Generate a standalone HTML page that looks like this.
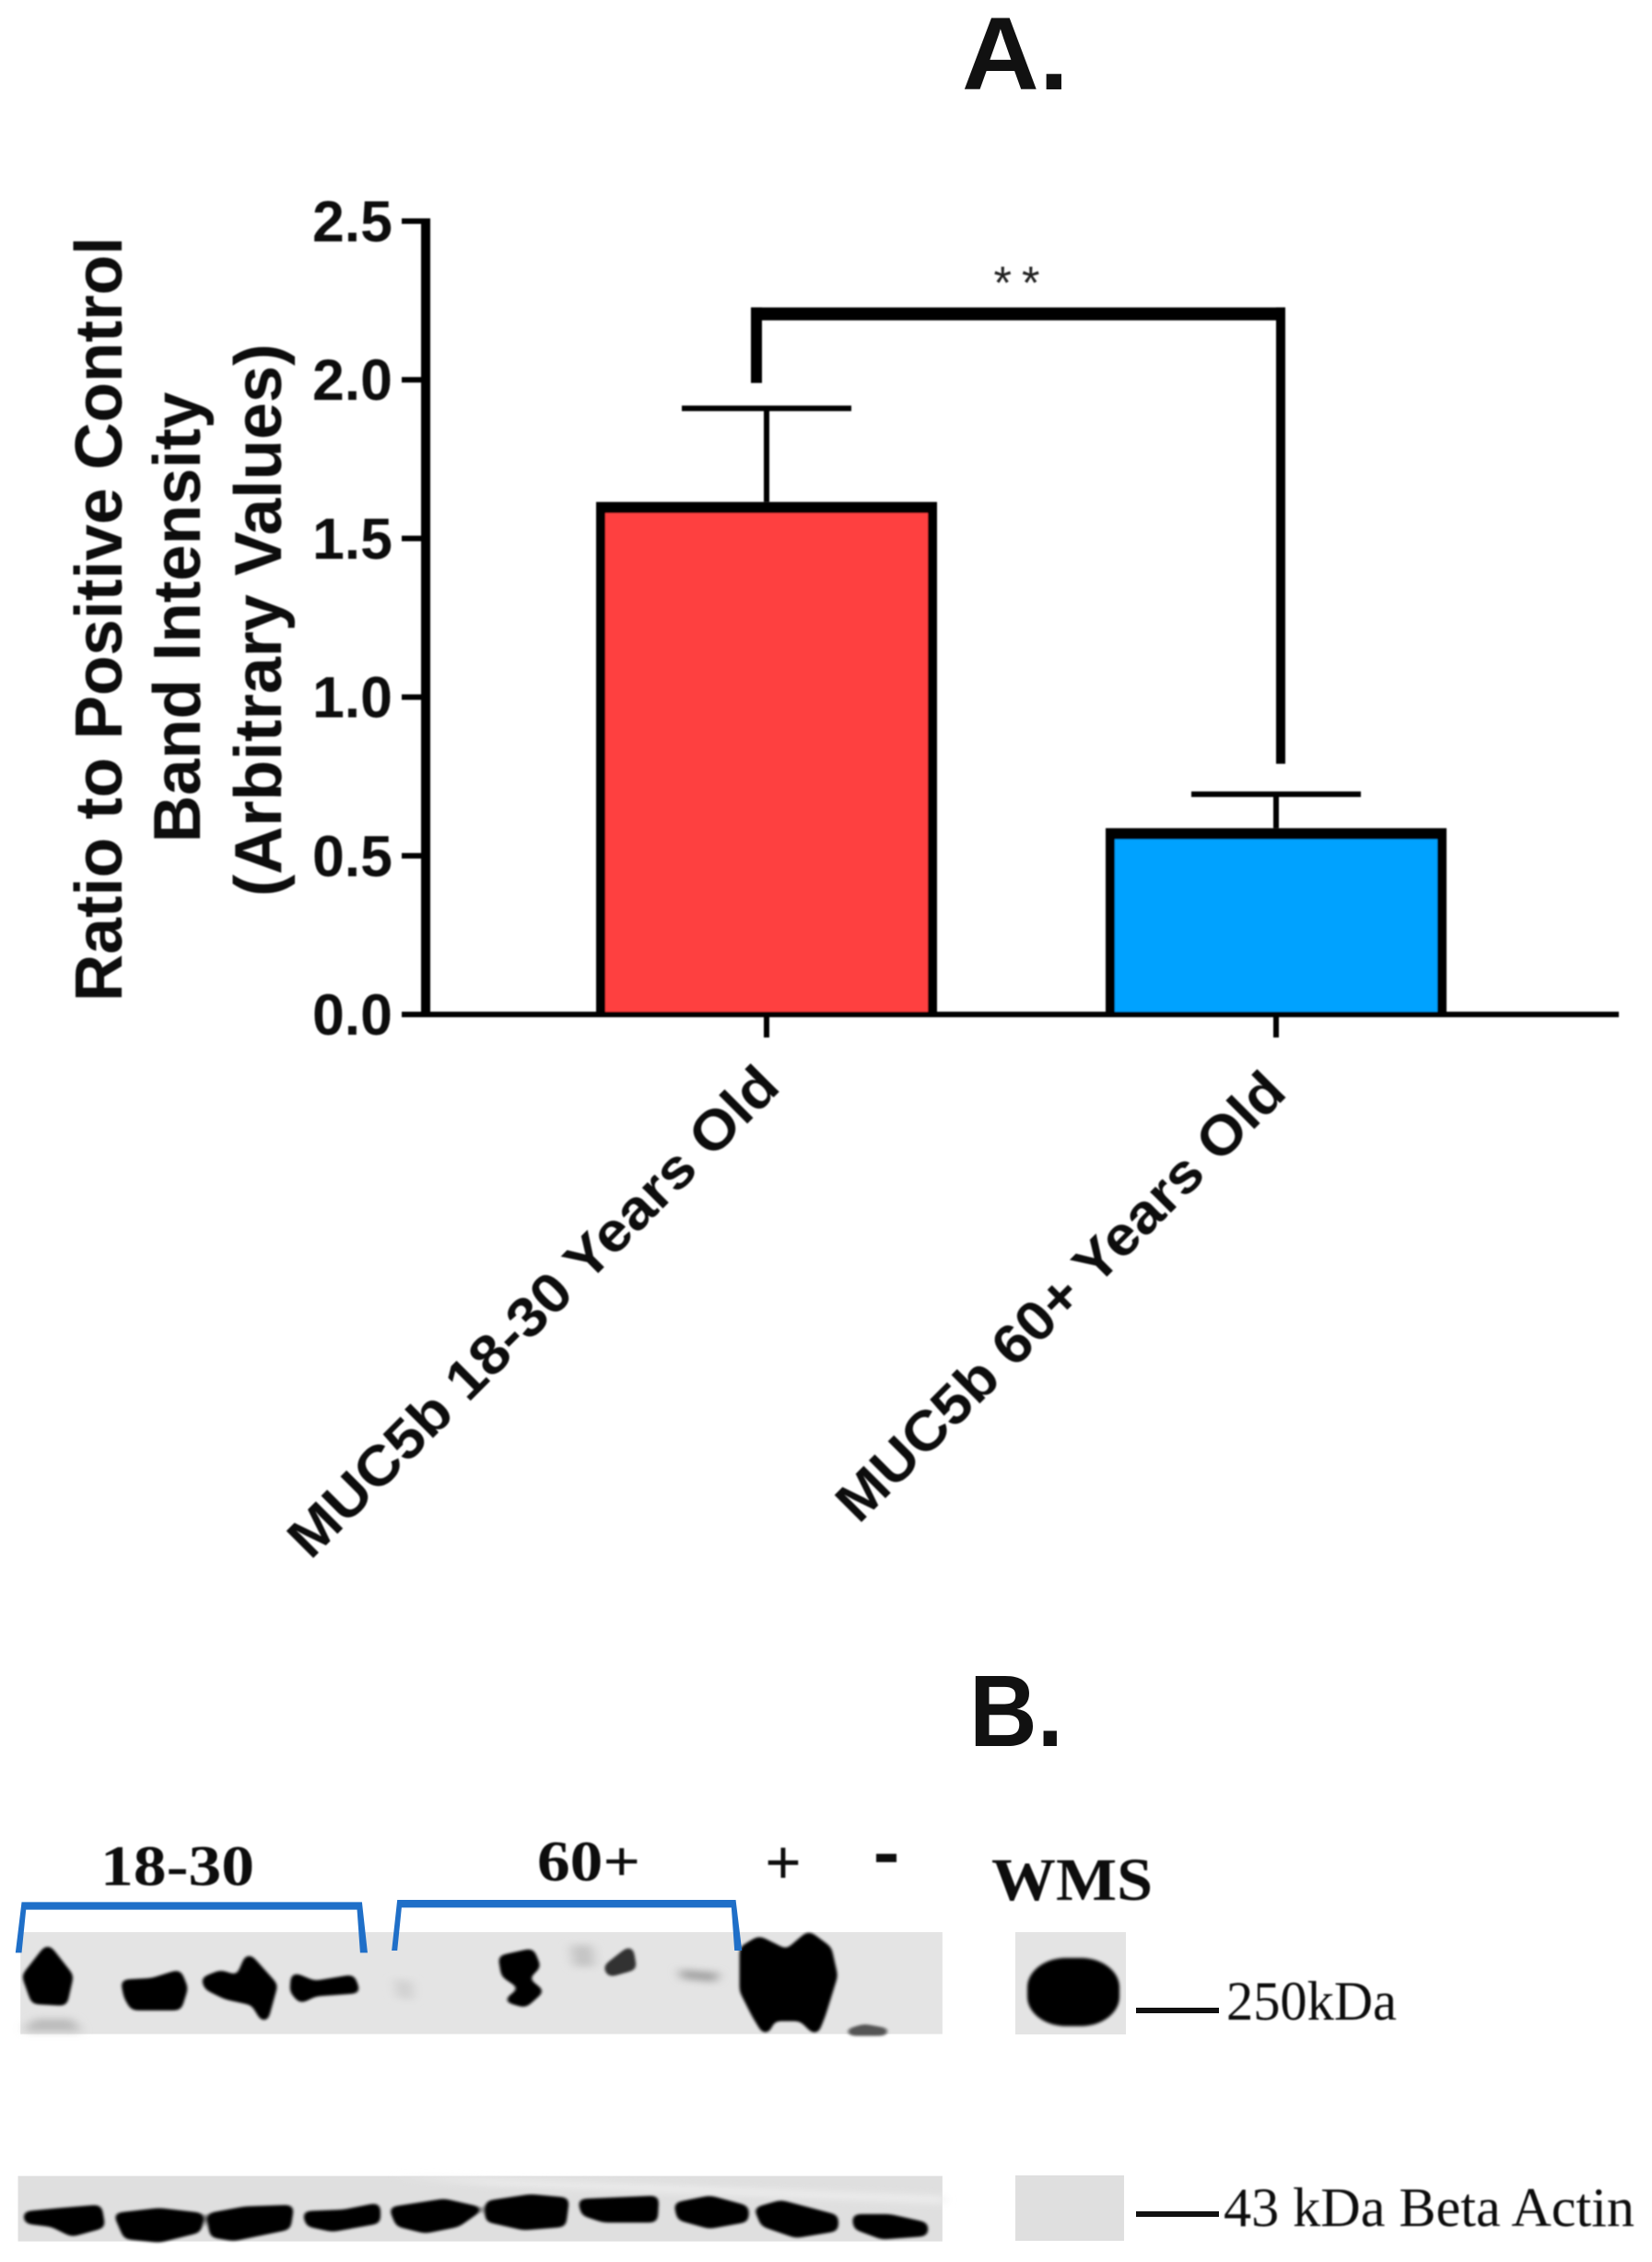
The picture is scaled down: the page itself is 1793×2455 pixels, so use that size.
<!DOCTYPE html>
<html lang="en">
<head>
<meta charset="utf-8">
<title>MUC5b band intensity</title>
<style>
html,body{margin:0;padding:0;background:#fff}
svg{display:block}
text{font-family:"Liberation Sans",sans-serif}
.serif{font-family:"Liberation Serif",serif}
</style>
</head>
<body>
<svg id="fig" xmlns="http://www.w3.org/2000/svg" width="1793" height="2455" viewBox="0 0 1793 2455">
<rect width="1793" height="2455" fill="#fff"/>
<defs>
<filter id="soft" x="-10%" y="-10%" width="120%" height="120%">
  <feGaussianBlur stdDeviation="6 11"/>
  <feComponentTransfer><feFuncA type="linear" slope="3.2" intercept="-0.9"/></feComponentTransfer>
  <feGaussianBlur stdDeviation="2 3"/>
</filter>
<filter id="softer" x="-30%" y="-30%" width="160%" height="160%"><feGaussianBlur stdDeviation="9 12"/></filter>
<filter id="txt" x="-5%" y="-20%" width="110%" height="140%"><feGaussianBlur stdDeviation="0.7"/></filter>
<filter id="wmsblur" x="-20%" y="-20%" width="140%" height="140%"><feGaussianBlur stdDeviation="1.5"/></filter>
</defs>
<text x="1044" y="97" font-size="112" font-weight="bold" fill="#111" textLength="116" lengthAdjust="spacingAndGlyphs">A.</text>
<text x="1052" y="1895" font-size="110" font-weight="bold" fill="#111" textLength="102" lengthAdjust="spacingAndGlyphs">B.</text>

<g id="chart" filter="url(#txt)"></g>

<g>
  <g transform="translate(-2,2001) scale(0.6716,0.3333)">
    <rect x="36" y="288" width="1490" height="332" fill="#e4e4e4"/>
    <rect x="32" y="1082" width="1494" height="213" fill="#dfdfdf"/>
    <g filter="url(#softer)">
      <polygon fill="#bbb" points="45,595 60,570 120,570 135,612 45,612"/>
      <polygon fill="#c4c4c4" points="925,330 960,330 965,400 930,400"/>
      <polygon fill="#a0a0a0" points="1100,410 1165,420 1160,450 1105,440"/>
      <polygon fill="#d0d0d0" points="640,440 670,450 670,510 645,500"/>
      <polygon fill="#f0f0f0" points="640,1082 1530,1150 1530,1170 800,1110"/>
    </g>
    <g filter="url(#soft)" fill="#000" stroke="#000" stroke-width="12" stroke-linejoin="round">
      <polygon points="80,340 115,430 105,520 60,515 45,430"/>
      <polygon points="205,450 250,445 290,420 300,470 290,535 220,535 210,500"/>
      <polygon points="335,440 360,420 390,440 405,370 445,460 430,570 415,520 370,500 340,470"/>
      <polygon points="480,430 510,455 570,435 578,480 510,490 490,510 478,480"/>
      <polygon points="815,370 860,350 870,400 850,440 875,480 850,525 825,510 850,470 820,430"/>
      <polygon fill="#333" stroke="#333" points="985,400 1020,345 1025,405 990,425"/>
      <polygon points="1205,340 1230,310 1275,355 1310,295 1340,340 1350,430 1330,560 1320,610 1300,570 1250,570 1240,610 1225,560 1205,480"/>
      <polygon fill="#555" stroke="#555" points="1375,610 1400,595 1435,608 1430,618 1380,618"/>
    </g>
    <g filter="url(#soft)" fill="#000" stroke="#000" stroke-width="14" stroke-linejoin="round">
      <polygon points="48,1205 100,1195 160,1185 165,1245 120,1270 90,1240 50,1230"/>
      <polygon points="195,1210 260,1195 325,1210 320,1260 260,1290 210,1280"/>
      <polygon points="345,1210 400,1190 470,1185 465,1250 380,1285 350,1275"/>
      <polygon points="500,1205 560,1200 610,1180 610,1230 540,1255 505,1240"/>
      <polygon points="640,1190 720,1165 775,1190 740,1240 690,1260 650,1240"/>
      <polygon points="795,1170 860,1150 915,1160 910,1240 850,1250 795,1225"/>
      <polygon points="945,1165 1060,1155 1058,1225 980,1225 950,1205"/>
      <polygon points="1100,1175 1150,1155 1205,1185 1205,1225 1150,1245 1105,1220"/>
      <polygon points="1230,1190 1265,1170 1350,1215 1350,1255 1290,1275 1240,1240"/>
      <polygon points="1388,1215 1440,1215 1495,1240 1495,1270 1430,1280 1390,1250"/>
    </g>
    <polygon fill="#1f6fc8" points="28,355 38,190 588,190 597,355 585,355 580,215 45,215 38,355"/>
    <polygon fill="#1f6fc8" points="636,348 645,183 1192,183 1202,348 1190,348 1185,208 652,208 645,348"/>
  </g>
  <g filter="url(#txt)" fill="#111">
    <text class="serif" x="109" y="2046" font-size="62" font-weight="bold" textLength="167" lengthAdjust="spacingAndGlyphs">18-30</text>
    <text class="serif" x="583" y="2041" font-size="62" font-weight="bold" textLength="112" lengthAdjust="spacingAndGlyphs">60+</text>
    <text class="serif" x="850" y="2045" font-size="70" font-weight="bold" text-anchor="middle">+</text>
    <rect x="951" y="2012" width="22" height="9"/>
    <text class="serif" x="1076" y="2062" font-size="66" font-weight="bold" textLength="175" lengthAdjust="spacingAndGlyphs">WMS</text>
    <text class="serif" x="1331" y="2192" font-size="60" textLength="185" lengthAdjust="spacingAndGlyphs">250kDa</text>
    <text class="serif" x="1328" y="2416" font-size="60" textLength="446" lengthAdjust="spacingAndGlyphs">43 kDa Beta Actin</text>
  </g>
  <rect x="1102" y="2097" width="120" height="111" fill="#e4e4e4"/>
  <rect x="1102" y="2361" width="118" height="71" fill="#dfdfdf"/>
  <rect x="1115" y="2125" width="100" height="74" rx="42" ry="32" fill="#000" filter="url(#wmsblur)"/>
  <rect x="1233" y="2179" width="90" height="6" fill="#111"/>
  <rect x="1233" y="2400" width="90" height="6" fill="#111"/>
</g>

<script>
const categories = ["MUC5b 18-30 Years Old", "MUC5b 60+ Years Old"];
const means = [1.615, 0.587];
const errors = [0.295, 0.107];
const barColors = ["#fe4040", "#00a2ff"];
const yTicks = [0, 0.5, 1, 1.5, 2, 2.5];
const yTickLabels = ["0.0", "0.5", "1.0", "1.5", "2.0", "2.5"];
const sigLabel = "**";
const sigLegValues = [1.99, 2.228, 0.79];
const yTitleLines = ["Ratio to Positive Control", "Band Intensity", "(Arbitrary Values)"];

const NS = "http://www.w3.org/2000/svg";
const chart = document.getElementById("chart");
const axisX = 462, axisRight = 1762, y0 = 1101, yTop = 240, yMax = 2.5;
const barWidth = 370, firstCenter = 832, spacing = 553;
function yScale(v) { return y0 - (v / yMax) * (y0 - yTop); }
function xScale(i) { return firstCenter + i * spacing; }
function make(tag, attrs, text) {
  const el = document.createElementNS(NS, tag);
  for (const k in attrs) el.setAttribute(k, attrs[k]);
  if (text !== undefined) el.textContent = text;
  chart.appendChild(el);
  return el;
}

yTicks.forEach(function (t, i) {
  const y = yScale(t);
  const tick = make("rect", { x: 436, y: y - 3, width: 28, height: 6, fill: "#000" });
  
  
  const label = make("text", { x: 426, y: y + 22, "font-size": 63, "font-weight": "bold", "text-anchor": "end", fill: "#111", textLength: 87, lengthAdjust: "spacingAndGlyphs" }, yTickLabels[i]);
  
  
});

const yTitlePos = [[132, 672, 830], [217, 670, 489], [305, 673, 600]];
yTitleLines.forEach(function (line, i) {
  const p = yTitlePos[i];
  const title = make("text", { transform: "translate(" + p[0] + "," + p[1] + ") rotate(-90)", "font-size": 72, "font-weight": "bold", "text-anchor": "middle", fill: "#111", textLength: p[2], lengthAdjust: "spacingAndGlyphs" }, line);
  
  
});

categories.forEach(function (cat, i) {
  const cx = xScale(i);
  const top = yScale(means[i]);
  const errTop = yScale(means[i] + errors[i]);
  const stem = make("rect", { x: cx - 3, y: errTop, width: 6, height: top - errTop, fill: "#000" });
  
  
  const cap = make("rect", { x: cx - 92, y: errTop - 3, width: 184, height: 6, fill: "#000" });
  
  
  const bar = make("rect", { x: cx - barWidth / 2, y: top, width: barWidth, height: y0 - top, fill: "#000" });
  
  
  const fill = make("rect", { x: cx - barWidth / 2 + 10, y: top + 12, width: barWidth - 20, height: y0 - top - 15, fill: barColors[i] });
  
  
  const xt = make("rect", { x: cx - 3, y: y0, width: 6, height: 25, fill: "#000" });
  
  
});

const yAxis = make("rect", { x: axisX - 5, y: yTop - 3, width: 10, height: y0 - yTop + 6, fill: "#000" });


const xAxis = make("rect", { x: axisX - 5, y: y0 - 3, width: axisRight - axisX + 5 - 5, height: 6, fill: "#000" });



const xLabelPos = [[337, 1694, 724], [932, 1655, 660]];
categories.forEach(function (cat, i) {
  const p = xLabelPos[i];
  const lbl = make("text", { transform: "translate(" + p[0] + "," + p[1] + ") rotate(-45)", "font-size": 60, "font-weight": "bold", fill: "#111", textLength: p[2], lengthAdjust: "spacingAndGlyphs" }, cat);
  
  
});

const bx1 = xScale(0) - 11, bx2 = xScale(1) + 5;
const legL = make("rect", { x: bx1 - 6, y: yScale(sigLegValues[1]), width: 12, height: yScale(sigLegValues[0]) - yScale(sigLegValues[1]), fill: "#000" });


const legR = make("rect", { x: bx2 - 5, y: yScale(sigLegValues[1]), width: 10, height: yScale(sigLegValues[2]) - yScale(sigLegValues[1]), fill: "#000" });


const span = make("rect", { x: bx1 - 6, y: yScale(sigLegValues[1]), width: bx2 - bx1 + 11, height: 14, fill: "#000" });


const star = make("text", { x: (bx1 + bx2) / 2 - 2, y: 324, "font-size": 50, "text-anchor": "middle", fill: "#222", textLength: 50, lengthAdjust: "spacing" }, sigLabel);


</script>
</svg>
</body>
</html>
